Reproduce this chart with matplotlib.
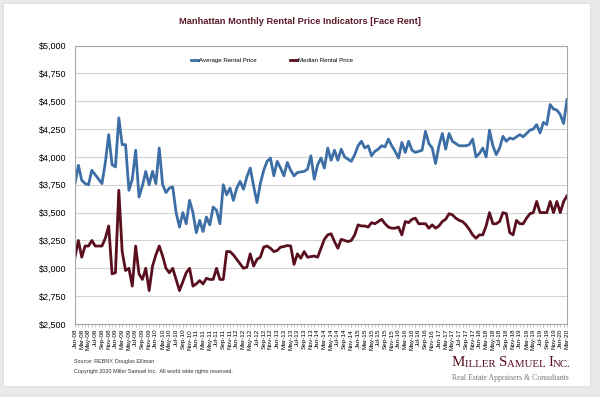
import matplotlib
matplotlib.use("Agg")
import matplotlib.pyplot as plt
from matplotlib.patches import Rectangle
import pandas as pd

# monthly categories Jan-08 .. Mar-20
months = pd.date_range("2008-01-01", "2020-03-01", freq="MS").strftime("%b-%y").tolist()

avg_rent = [
    3760, 3925, 3790, 3760, 3750, 3880, 3840, 3800, 3760, 3950, 4200, 3930,
    3910, 4350, 4110, 4110, 3700, 3800, 4060, 3640, 3740, 3870, 3750, 3870,
    3760, 4080, 3750, 3680, 3720, 3730, 3500, 3370, 3500, 3400, 3610, 3500,
    3320, 3430, 3330, 3460, 3390, 3550, 3520, 3400, 3750, 3660, 3720, 3610,
    3720, 3780, 3710, 3820, 3900, 3740, 3590, 3760, 3880, 3960, 3990, 3830,
    3960, 3900, 3830, 3950, 3880, 3830, 3860, 3865, 3870, 3890, 4010, 3800,
    3930, 3990, 3900, 4080, 3970, 4060, 3970, 4070, 4000, 3980, 3960, 4020,
    4100, 4140, 4080, 4100, 4010, 4050, 4070, 4100, 4090, 4160, 4100, 4050,
    3990, 4130, 4040, 4140, 4060, 4040, 4050, 4060, 4230, 4120, 4080, 3940,
    4100, 4210, 4070, 4210, 4140, 4120, 4100, 4100, 4100, 4110, 4160, 4000,
    4030, 4080, 4000, 4240, 4100, 4020, 4080, 4185, 4140, 4170, 4160, 4180,
    4200, 4180, 4210, 4240, 4250, 4290, 4215, 4310, 4290, 4470, 4430, 4420,
    4380, 4300, 4515,
]

median_rent = [
    3100, 3250, 3100, 3200, 3200, 3250, 3200, 3200, 3200, 3270, 3380, 2950,
    2960, 3700, 3150, 2980, 3000, 2840, 3200, 2950, 2900, 3000, 2800, 3020,
    3120, 3200, 3110, 3000, 2960, 3000, 2900, 2800, 2880, 2960, 3000, 2840,
    2860, 2890, 2860, 2910, 2900, 2900, 3000, 2900, 2900, 3150, 3150, 3120,
    3080, 3040, 3000, 3010, 3130, 3020, 3080, 3100, 3190, 3200, 3180, 3150,
    3160, 3190, 3195, 3205, 3200, 3035, 3130, 3090, 3150, 3100, 3105, 3110,
    3100, 3180, 3260, 3300, 3310, 3240, 3180, 3260, 3250, 3240, 3250, 3300,
    3390, 3380, 3380, 3370, 3410, 3400, 3420, 3440, 3400, 3370, 3360, 3360,
    3370, 3300, 3420, 3410, 3440, 3450, 3400, 3400, 3400, 3360, 3390, 3360,
    3380, 3420, 3440, 3490, 3480, 3450, 3430, 3420, 3390, 3350, 3300, 3270,
    3300, 3300, 3380, 3500, 3400, 3400, 3420, 3500, 3490, 3320, 3300, 3430,
    3400, 3400, 3450, 3490, 3500, 3600, 3500, 3500, 3500, 3600, 3500, 3600,
    3500, 3600, 3650,
]

y_ticks = [2500, 2750, 3000, 3250, 3500, 3750, 4000, 4250, 4500, 4750, 5000]

BLUE = "#3d6fa6"
WINE = "#5a0f1f"
plt.rcParams["font.family"] = ["Liberation Sans", "DejaVu Sans"]

fig = plt.figure(figsize=(6.0, 3.97), dpi=100)
fig.patch.set_facecolor("#e9e9e9")
fig.add_artist(Rectangle((3 / 600, 1 - 386 / 397), 587 / 600, 383 / 397,
                         transform=fig.transFigure, facecolor="white",
                         edgecolor="#dcdcdc", linewidth=0.6, zorder=-10))

ax = fig.add_axes([75 / 600, 1 - 324 / 397, 492 / 600, 278.5 / 397])
ax.patch.set_alpha(0)
x = list(range(len(months)))
ax.plot(x, avg_rent, color=BLUE, lw=2.0, label="Average Rental Price")
ax.plot(x, median_rent, color=WINE, lw=2.0, label="Median Rental Price")

ax.set_xlim(0, len(months) - 1)
ax.set_ylim(2500, 5000)
ax.set_yticks(y_ticks)
ax.set_yticklabels(["${:,}".format(v) for v in y_ticks], fontsize=6.5)
ax.set_xticks(x[::2])
ax.set_xticklabels(months[::2], rotation=90, fontsize=4.6)
ax.set_xticks(x, minor=True)
ax.tick_params(axis="x", which="both", length=2, width=0.4, color="#999999", pad=1.5)
ax.tick_params(axis="y", length=0, pad=6)
ax.grid(axis="y", color="#d4d4d4", lw=0.8)
ax.set_axisbelow(True)
for s in ax.spines.values():
    s.set_color("#a8a8a8")
    s.set_linewidth(0.8)

ax.legend(loc="upper center", bbox_to_anchor=(0.40, 0.975), ncol=2, frameon=False,
          fontsize=4.4, handlelength=1.1, handletextpad=0.15, columnspacing=5.5)

fig.text(0.5, 1 - 22 / 397, "Manhattan Monthly Rental Price Indicators [Face Rent]",
         ha="center", va="center", fontsize=6.7, fontweight="bold", color="#5a1a28")

fig.text(74 / 600, 1 - 362 / 397, "Source: REBNY, Douglas Elliman", fontsize=3.9,
         va="center", color="#333333")
fig.text(74 / 600, 1 - 371 / 397,
         "Copyright 2020 Miller Samuel Inc.  All world wide rights reserved.",
         fontsize=4.0, va="center", color="#333333")

# logo in small caps, each piece anchored to the end of the previous one
serif = ["Liberation Serif", "DejaVu Serif"]
pieces = [("M", 10.8), ("ILLER ", 7.8), ("S", 10.8), ("AMUEL ", 7.8), ("I", 10.8), ("NC.", 7.8)]
anchor = fig.text(452 / 600, 1 - 366 / 397, pieces[0][0], fontsize=pieces[0][1],
                  family=serif, color=WINE, va="baseline")
for txt, size in pieces[1:]:
    anchor = ax.annotate(txt, xy=(1, 0), xycoords=anchor, va="bottom", ha="left",
                         fontsize=size, family=serif, color=WINE, annotation_clip=False)
fig.text(452 / 600, 1 - 378 / 397, "Real Estate Appraisers & Consultants",
         fontsize=5.6, family=serif, color="#777777", va="center")

fig.savefig("out.png", dpi=100, facecolor=fig.get_facecolor())
